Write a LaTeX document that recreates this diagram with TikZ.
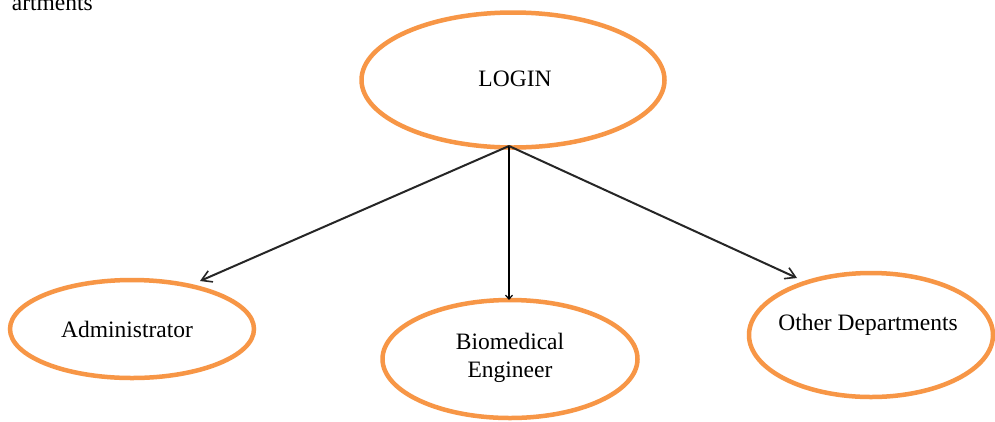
\documentclass[tikz,border=0pt]{standalone}
\usepackage{fontspec}
\setmainfont{Liberation Serif}
\usetikzlibrary{shapes.geometric,arrows.meta}
\definecolor{ovalorange}{RGB}{247,150,70}
\tikzset{
  oval/.style={ellipse, draw=ovalorange, line width=4.5pt, inner sep=0pt, fill=white},
  lbl/.style={font=\fontsize{23.5pt}{28pt}\selectfont, inner sep=0pt, align=center, text=black},
  conn/.style={draw=black!85, line width=2pt, -{Straight Barb[length=10pt,width=12pt,line width=1.6pt]}},
  vconn/.style={draw=black, line width=2pt, -{Straight Barb[length=4pt,width=7pt,line width=1.2pt]}}
}
\begin{document}
\begin{tikzpicture}[x=1pt,y=-1pt]
\useasboundingbox (0,0) rectangle (995,421);
\clip (0,0) rectangle (995,421);
\fill[white] (0,0) rectangle (995,421);
% clipped text at top-left
\node[lbl, anchor=base east] (toptxt) at (93,10) {artments};
% ellipses
\node[oval, minimum width=303pt, minimum height=135pt] (login) at (513,80) {};
\node[oval, minimum width=244pt, minimum height=98pt] (admin) at (132,329) {};
\node[oval, minimum width=255pt, minimum height=118pt] (bio) at (510,359) {};
\node[oval, minimum width=244pt, minimum height=124pt] (other) at (871,335) {};
% labels
\node[lbl] (logintxt) at (515,79) {LOGIN};
\node[lbl] (admintxt) at (127,329) {Administrator};
\node[lbl] (biotxt) at (510,358) {Biomedical\\Engineer};
\node[lbl] (othertxt) at (868,325) {Other Departments};
% connectors
\coordinate (apex) at (509,146);
\coordinate (admtip) at (200,281);
\coordinate (biotip) at (509,300);
\coordinate (othtip) at (797,278);
\draw[conn] (apex) -- (admtip);
\draw[vconn] (apex) -- (biotip);
\draw[conn] (apex) -- (othtip);
\end{tikzpicture}
\end{document}
